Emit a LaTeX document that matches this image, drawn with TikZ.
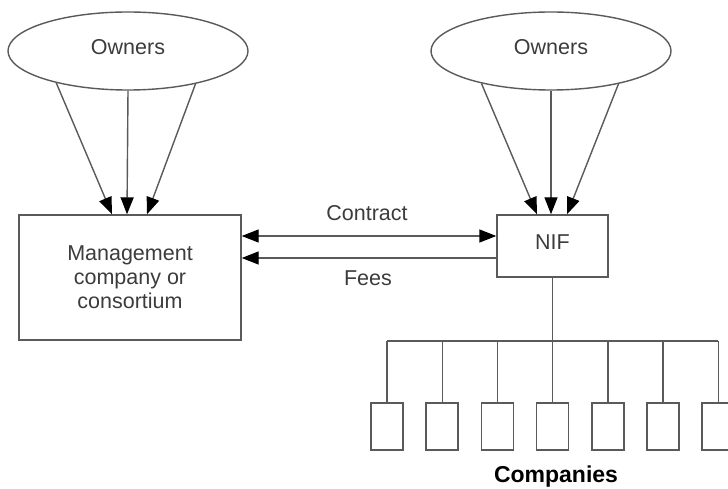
\documentclass[tikz,border=0pt]{standalone}
\usepackage{fontspec}
\setmainfont{Liberation Sans}
\usetikzlibrary{shapes.geometric,arrows.meta,calc}
\definecolor{ln}{HTML}{5A5A5A}
\definecolor{tx}{HTML}{3C3C3C}
\begin{document}
\begin{tikzpicture}[x=1pt,y=-1pt,
  lbl/.style={text=tx,font=\fontsize{21.5}{24}\selectfont},
  own/.style={ellipse,draw=ln,line width=1.4pt,minimum width=240pt,minimum height=78pt,inner sep=0pt,lbl},
  boxs/.style={draw=ln,line width=1.4pt,inner sep=0pt,lbl,align=center},
  comp/.style={draw=ln,line width=1.5pt,minimum width=32pt,minimum height=47pt,inner sep=0pt},
  conn/.style={draw=ln,line width=1.4pt},
  tip/.tip={Triangle[length=17pt,width=13pt,color=black]},
  arr/.style={conn,-tip},
]
\useasboundingbox (0,0) rectangle (728,489);
\fill[white] (0,0) rectangle (728,489);
% nodes
\node[own] (o1) at (128,51) {};
\node[lbl] (o1t) at (128,47) {Owners};
\node[own] (o2) at (551,51) {};
\node[lbl] (o2t) at (551,47) {Owners};
\node[boxs,minimum width=222pt,minimum height=125pt] (mgmt) at (130,277.5) {};
\node[lbl,align=center] (mgmtt) at (130,277) {Management\\company or\\consortium};
\node[boxs,minimum width=111pt,minimum height=62pt] (nif) at (552.5,246) {};
\node[lbl] (niftt) at (552.5,242) {NIF};
% owner arrows
\draw[arr] (o1.204) -- ($(mgmt.north)+(-18,0)$);
\draw[arr] (o1.south) -- ($(mgmt.north)+(-3,0)$);
\draw[arr] (o1.334) -- ($(mgmt.north)+(17,0)$);
\draw[arr] (o2.205) -- ($(nif.north)+(-15.5,0)$);
\draw[arr] (o2.south) -- ($(nif.north)+(-1.5,0)$);
\draw[arr] (o2.334) -- ($(nif.north)+(14.5,0)$);
% contract and fees
\coordinate (cy) at (0,236);
\coordinate (fy) at (0,258);
\draw[conn,tip-tip] (mgmt.east |- cy) -- (nif.west |- cy);
\draw[arr] (nif.west |- fy) -- (mgmt.east |- fy);
\node[lbl] (ct) at (367,213) {Contract};
\node[lbl] (ft) at (368,278) {Fees};
% companies
\coordinate (bus) at (0,341);
\foreach \i in {0,...,6} {
  \node[comp] (c\i) at ({387+55.2*\i},426.5) {};
  \draw[conn] (c\i.north) -- (c\i.north |- bus);
}
\draw[conn] (c0.north |- bus) -- (c6.north |- bus);
\draw[conn] (nif.south) -- (nif.south |- bus);
\node[text=black,font=\fontsize{23}{26}\selectfont\bfseries] (compt) at (556,477) {Companies};
\end{tikzpicture}
\end{document}
